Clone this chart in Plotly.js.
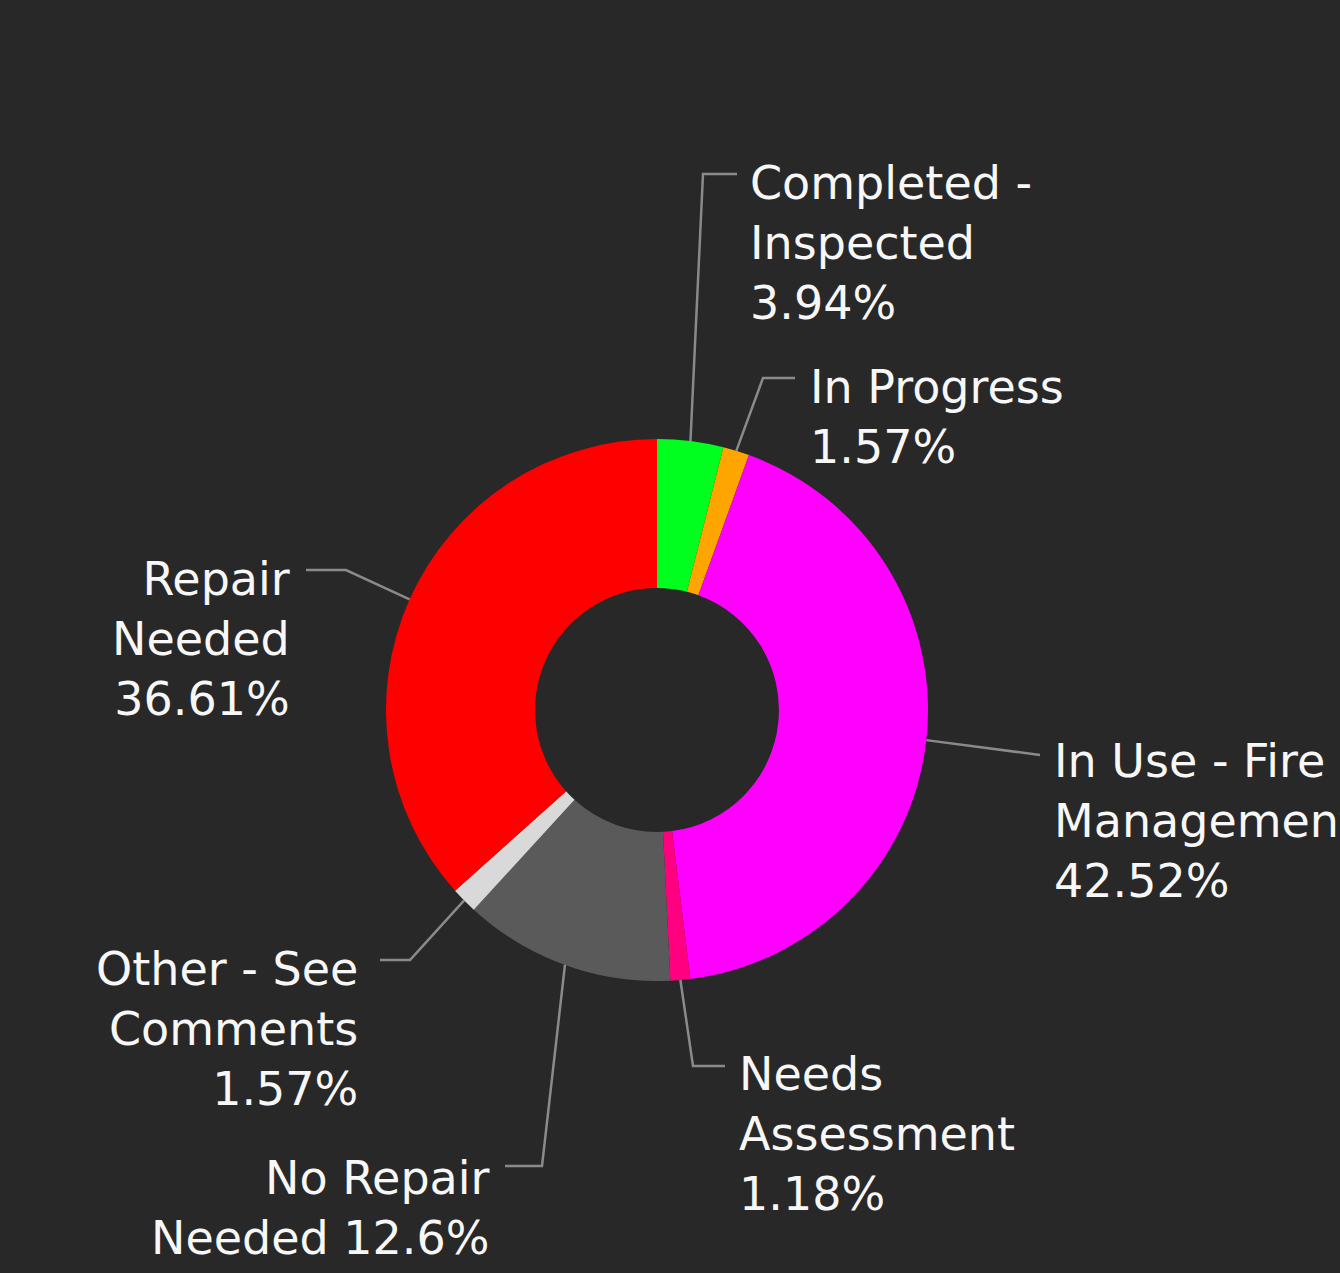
<!DOCTYPE html>
<html>
<head>
<meta charset="utf-8">
<script src="https://cdn.plot.ly/plotly-3.0.1.min.js"></script>
<style>
  html, body { margin: 0; padding: 0; background: #282828; }
  #chart { width: 1340px; height: 1273px; }
</style>
</head>
<body>
<div id="chart"></div>
<script>
// ---- data ----
const categories = [
  'Completed - Inspected',
  'In Progress',
  'In Use - Fire Management',
  'Needs Assessment',
  'No Repair Needed',
  'Other - See Comments',
  'Repair Needed'
];
const values = [3.94, 1.57, 42.52, 1.18, 12.6, 1.57, 36.61];
const sliceColors = ['#00ff1e', '#ffa500', '#ff00ff', '#ff0080', '#5a5a5a', '#d9d9d9', '#ff0000'];
// how each label wraps (display text)
const labelLines = [
  ['Completed -', 'Inspected'],
  ['In Progress'],
  ['In Use - Fire', 'Management'],
  ['Needs', 'Assessment'],
  ['No Repair', 'Needed'],
  ['Other - See', 'Comments'],
  ['Repair', 'Needed']
];
const percentOnSameLine = [false, false, false, false, true, false, false];

// ---- layout config (pixels) ----
const W = 1340, H = 1273;
const CX = 657, CY = 710, R = 271;
// elbow point, end of horizontal leg, text anchor x, text block center y, side
const placement = [
  { elbow: [703, 174], end: [737, 174], tx: 748, ty: 243, side: 'left' },
  { elbow: [763, 378], end: [795, 378], tx: 808, ty: 417, side: 'left' },
  { elbow: [1040, 755], end: [1040, 755], tx: 1052, ty: 821, side: 'left' },
  { elbow: [693, 1066], end: [725, 1066], tx: 737, ty: 1134, side: 'left' },
  { elbow: [542, 1166], end: [505, 1166], tx: 492, ty: 1208, side: 'right' },
  { elbow: [410, 960], end: [380, 960], tx: 360, ty: 1029, side: 'right' },
  { elbow: [346, 570], end: [306, 570], tx: 292, ty: 639, side: 'right' }
];

const px = x => x / W;
const py = y => 1 - y / H;

const total = values.reduce((a, b) => a + b, 0);
let cum = 0;
const shapes = [];
const annotations = [];
values.forEach((v, i) => {
  const midFrac = (cum + v / 2) / total;
  cum += v;
  const ang = midFrac * 2 * Math.PI; // clockwise from top
  const sx = CX + R * Math.sin(ang);
  const sy = CY - R * Math.cos(ang);
  const p = placement[i];
  const path = `M ${px(sx)} ${py(sy)} L ${px(p.elbow[0])} ${py(p.elbow[1])} L ${px(p.end[0])} ${py(p.end[1])}`;
  shapes.push({
    type: 'path', xref: 'paper', yref: 'paper', path: path,
    line: { color: '#8a8a8a', width: 2.5 }
  });
  const pct = String(v) + '%';
  let lines = labelLines[i].slice();
  if (percentOnSameLine[i]) lines[lines.length - 1] += ' ' + pct; else lines.push(pct);
  annotations.push({
    xref: 'paper', yref: 'paper',
    x: px(p.tx), y: py(p.ty),
    xanchor: p.side, yanchor: 'middle',
    align: p.side,
    showarrow: false,
    text: lines.join('<br>'),
    font: { family: '"DejaVu Sans", Verdana, sans-serif', size: 46, color: '#f7f7f7' }
  });
});

const trace = {
  type: 'pie',
  labels: categories,
  values: values,
  sort: false,
  direction: 'clockwise',
  rotation: 0,
  hole: 0.45,
  textinfo: 'none',
  marker: { colors: sliceColors, line: { width: 0 } },
  domain: { x: [(CX - R) / W, (CX + R) / W], y: [1 - (CY + R) / H, 1 - (CY - R) / H] },
  showlegend: false,
  hoverinfo: 'label+percent'
};

const layout = {
  width: W, height: H,
  margin: { l: 0, r: 0, t: 0, b: 0 },
  paper_bgcolor: '#282828',
  plot_bgcolor: '#282828',
  showlegend: false,
  shapes: shapes,
  annotations: annotations
};

Plotly.newPlot('chart', [trace], layout, { displayModeBar: false, staticPlot: true });
</script>
</body>
</html>
